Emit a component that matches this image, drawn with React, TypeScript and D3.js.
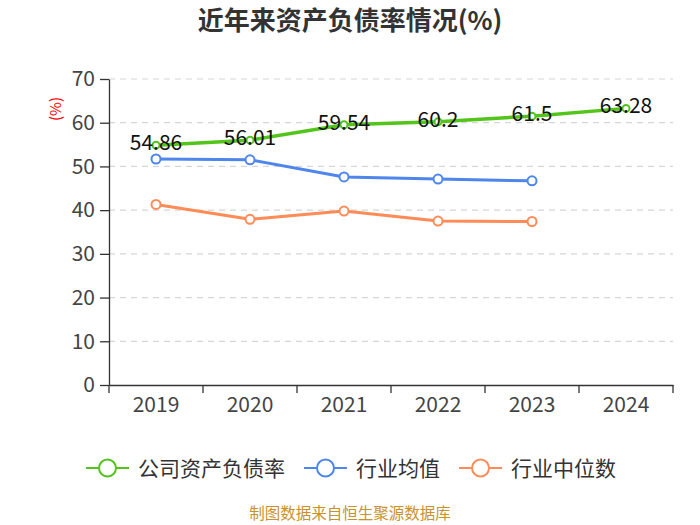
import * as React from "react";
import * as d3 from "d3";

const years = ["2019", "2020", "2021", "2022", "2023", "2024"];
const companyRatio = [54.86, 56.01, 59.54, 60.2, 61.5, 63.28];
const industryMean = [51.7, 51.5, 47.6, 47.1, 46.7];
const industryMedian = [41.3, 37.9, 39.8, 37.5, 37.4];
const yTicks = [0, 10, 20, 30, 40, 50, 60, 70];

const GREEN = "#52c41a";
const BLUE = "#4f86ec";
const ORANGE = "#ff8b56";

const width = 700;
const height = 525;
const left = 109;
const right = 673;
const top = 79;
const bottom = 385;

const App: React.FunctionComponent = () => {
  const svgRef = React.useRef<SVGSVGElement>(null);

  React.useEffect(() => {
    const svgElement = svgRef.current;
    if (!svgElement) return;
    while (svgElement.firstChild) svgElement.removeChild(svgElement.firstChild);

    const svg = d3.select(svgElement);
    const font = '"Noto Sans CJK SC", "Noto Sans", sans-serif';

    const x = d3.scaleBand<string>().domain(years).range([left, right]);
    const y = d3.scaleLinear().domain([0, 70]).range([bottom, top]);
    const cx = (i: number) => (x(years[i]) ?? 0) + x.bandwidth() / 2;

    // Title
    svg.append("text")
      .attr("x", width / 2)
      .attr("y", 30)
      .attr("text-anchor", "middle")
      .attr("font-family", font)
      .attr("font-size", 26)
      .attr("font-weight", "bold")
      .attr("fill", "#333")
      .text("近年来资产负债率情况(%)");

    // Unit label
    svg.append("text")
      .attr("transform", `translate(56, 109) rotate(-90)`)
      .attr("text-anchor", "middle")
      .attr("dy", "0.35em")
      .attr("font-family", font)
      .attr("font-size", 15)
      .attr("fill", "#ff0000")
      .text("(%)");

    // Grid lines
    svg.append("g")
      .selectAll("line")
      .data(yTicks.filter(t => t > 0))
      .enter()
      .append("line")
      .attr("x1", left)
      .attr("x2", right)
      .attr("y1", d => y(d))
      .attr("y2", d => y(d))
      .attr("stroke", "#d6d6d6")
      .attr("stroke-width", 1.2)
      .attr("stroke-dasharray", "6,5");

    // Y axis
    const yAxis = svg.append("g")
      .attr("transform", `translate(${left},0)`)
      .call(d3.axisLeft(y).tickValues(yTicks).tickSize(9).tickSizeOuter(0).tickPadding(5));
    yAxis.select(".domain").attr("stroke", "#333").attr("stroke-width", 1.3);
    yAxis.selectAll(".tick line").attr("stroke", "#333").attr("stroke-width", 1.3);
    yAxis.selectAll("text")
      .attr("font-family", font)
      .attr("font-size", 21)
      .attr("fill", "#444");

    // X axis
    const xAxis = svg.append("g")
      .attr("transform", `translate(0,${bottom})`)
      .call(d3.axisBottom(x).tickSize(0).tickPadding(12));
    xAxis.select(".domain").attr("stroke", "#333").attr("stroke-width", 1.3);
    xAxis.selectAll("text")
      .attr("font-family", font)
      .attr("font-size", 21)
      .attr("fill", "#444");
    xAxis.selectAll(".tick line").remove();
    xAxis.append("g")
      .selectAll("line")
      .data(d3.range(years.length + 1))
      .enter()
      .append("line")
      .attr("x1", i => left + i * x.bandwidth())
      .attr("x2", i => left + i * x.bandwidth())
      .attr("y1", 0)
      .attr("y2", 8)
      .attr("stroke", "#333")
      .attr("stroke-width", 1.3);

    const line = d3.line<number>()
      .x((_d, i) => cx(i))
      .y(d => y(d));

    const series = [
      { values: industryMedian, color: ORANGE, width: 3, r: 4.5 },
      { values: industryMean, color: BLUE, width: 3, r: 4.5 },
      { values: companyRatio, color: GREEN, width: 3.5, r: 3.5 },
    ];

    series.forEach(s => {
      svg.append("path")
        .attr("d", line(s.values))
        .attr("fill", "none")
        .attr("stroke", s.color)
        .attr("stroke-width", s.width)
        .attr("stroke-linejoin", "round");
      svg.append("g")
        .selectAll("circle")
        .data(s.values)
        .enter()
        .append("circle")
        .attr("cx", (_d, i) => cx(i))
        .attr("cy", d => y(d))
        .attr("r", s.r)
        .attr("fill", "#fff")
        .attr("stroke", s.color)
        .attr("stroke-width", 2);
    });

    // Data labels
    svg.append("g")
      .selectAll("text")
      .data(companyRatio)
      .enter()
      .append("text")
      .attr("x", (_d, i) => cx(i))
      .attr("y", d => y(d) + 5)
      .attr("text-anchor", "middle")
      .attr("font-family", font)
      .attr("font-size", 21)
      .attr("fill", "#111")
      .text(d => `${d}`);

    // Legend
    const legend = [
      { label: "公司资产负债率", color: GREEN, x: 86 },
      { label: "行业均值", color: BLUE, x: 304 },
      { label: "行业中位数", color: ORANGE, x: 459 },
    ];
    const lg = svg.append("g").attr("transform", "translate(0,468)");
    legend.forEach(l => {
      lg.append("line")
        .attr("x1", l.x)
        .attr("x2", l.x + 43)
        .attr("y1", 0)
        .attr("y2", 0)
        .attr("stroke", l.color)
        .attr("stroke-width", 2);
      lg.append("circle")
        .attr("cx", l.x + 21.5)
        .attr("cy", 0)
        .attr("r", 8.5)
        .attr("fill", "#fff")
        .attr("stroke", l.color)
        .attr("stroke-width", 2);
      lg.append("text")
        .attr("x", l.x + 52)
        .attr("y", 0)
        .attr("dy", "0.36em")
        .attr("font-family", font)
        .attr("font-size", 21)
        .attr("fill", "#333")
        .text(l.label);
    });

    // Source
    svg.append("text")
      .attr("x", width / 2)
      .attr("y", 519)
      .attr("text-anchor", "middle")
      .attr("font-family", font)
      .attr("font-size", 15.5)
      .attr("fill", "#c8922e")
      .text("制图数据来自恒生聚源数据库");

    return () => {
      while (svgElement.firstChild) svgElement.removeChild(svgElement.firstChild);
    };
  }, []);

  return (
    <svg
      ref={svgRef}
      width={width}
      height={height}
      style={{ position: "absolute", left: 0, top: 0, background: "#fff" }}
    />
  );
};

export default App;
